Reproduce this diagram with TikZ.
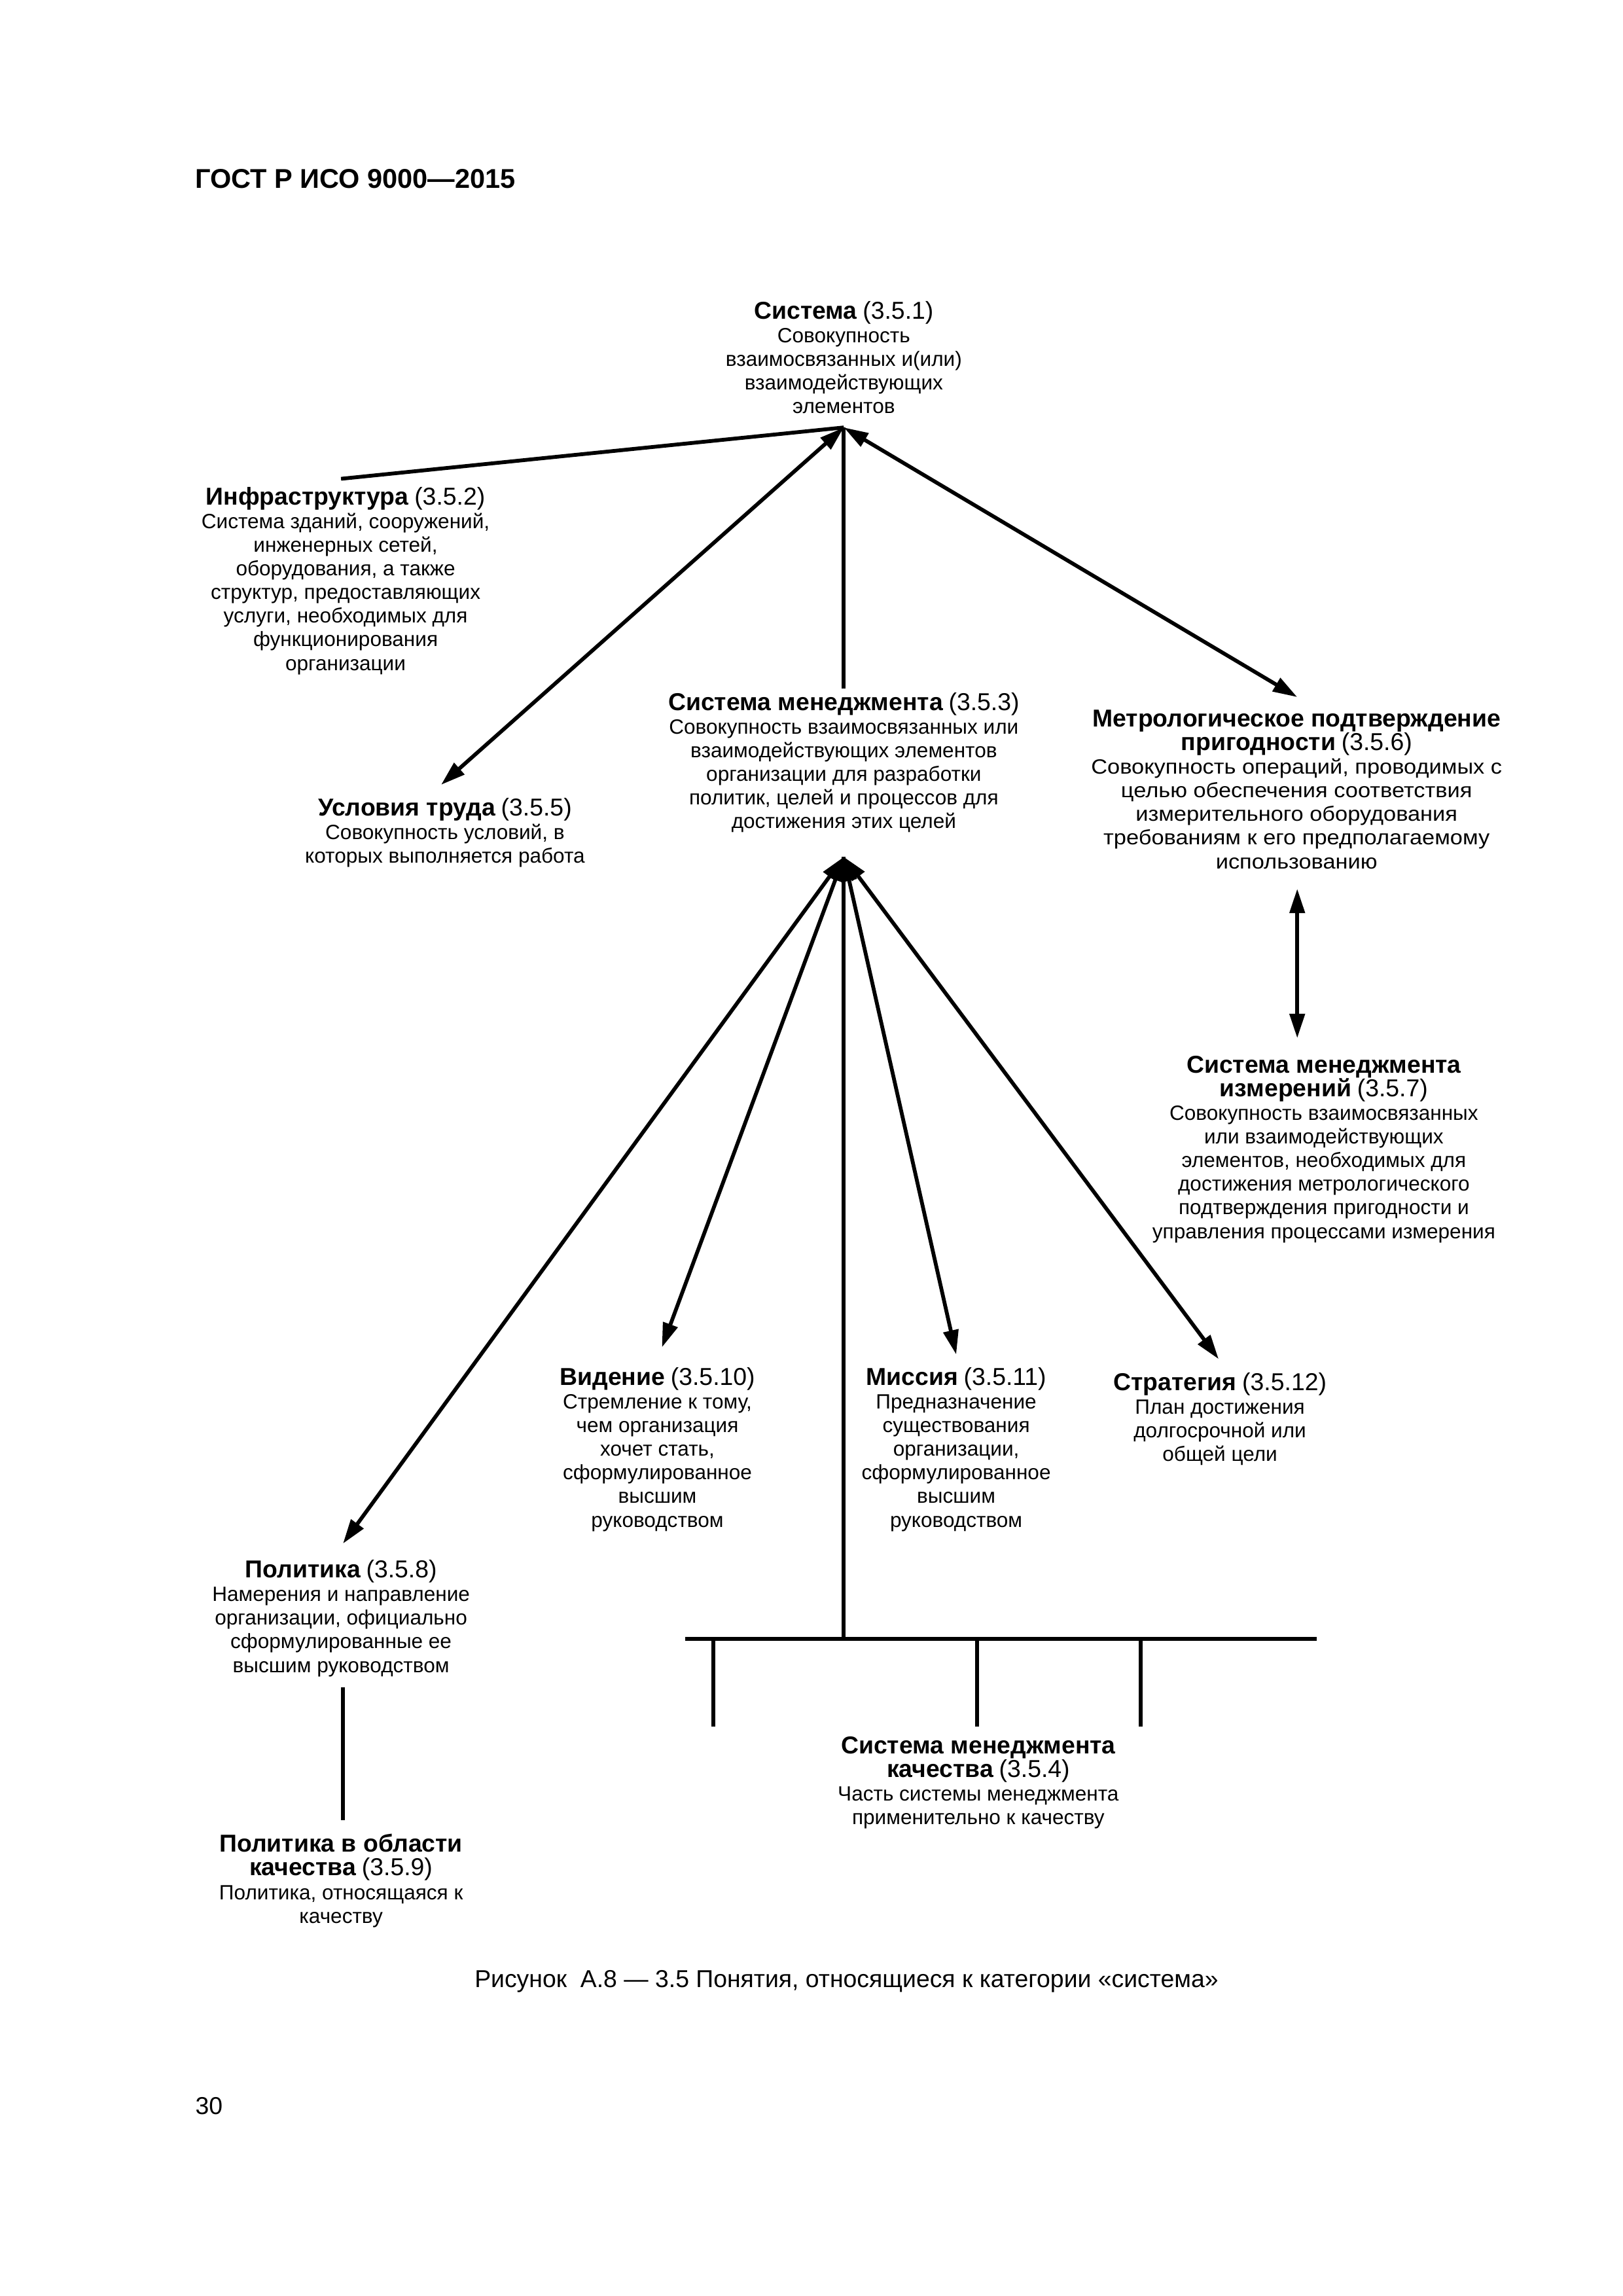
\documentclass[tikz,border=0pt]{standalone}
\usepackage{fontspec}
\setmainfont{Liberation Sans}
\newfontfamily\widefont[FakeStretch=1.09]{Liberation Sans}
\usetikzlibrary{arrows.meta}
\newcommand\ttl[1]{{\fontsize{9}{9.2}\selectfont\bfseries #1}}
\newcommand\tno[1]{{\fontsize{9}{9.2}\selectfont #1}}
\begin{document}
\begin{tikzpicture}[x=0.08404mm,y=-0.08404mm,
  term/.style={align=center,inner sep=0pt,font=\fontsize{7.6}{8.7}\selectfont},
  conn/.style={line width=1.4pt},
  dbl/.style={conn,{Triangle[length=9pt,width=5.5pt]}-{Triangle[length=9pt,width=5.5pt]}}]
\useasboundingbox (0,0) rectangle (2498.5,3534.2);
% header
\node[anchor=base west,inner sep=0pt,font=\fontsize{10}{12}\selectfont\bfseries] (hdr) at (300,290) {ГОСТ Р ИСО 9000—2015};
% terms
\node[term] (n1) at (1299,550) {\ttl{Система} \tno{(3.5.1)}\\Совокупность\\взаимосвязанных и(или)\\взаимодействующих\\элементов};
\node[term] (n2) at (532,894) {\ttl{Инфраструктура} \tno{(3.5.2)}\\Система зданий, сооружений,\\инженерных сетей,\\оборудования, а также\\структур, предоставляющих\\услуги, необходимых для\\функционирования\\организации};
\node[term] (n5) at (685,1282) {\ttl{Условия труда} \tno{(3.5.5)}\\Совокупность условий, в\\которых выполняется работа};
\node[term] (n3) at (1299,1174) {\ttl{Система менеджмента} \tno{(3.5.3)}\\Совокупность взаимосвязанных или\\взаимодействующих элементов\\организации для разработки\\политик, целей и процессов для\\достижения этих целей};
\node[term] (n6) at (1996,1215) {\ttl{Метрологическое подтверждение}\\\ttl{пригодности} \tno{(3.5.6)}\\\widefont Совокупность операций, проводимых с\\\widefont целью обеспечения соответствия\\\widefont измерительного оборудования\\\widefont требованиям к его предполагаемому\\\widefont использованию};
\node[term] (n7) at (2038,1769) {\ttl{Система менеджмента}\\\ttl{измерений} \tno{(3.5.7)}\\Совокупность взаимосвязанных\\или взаимодействующих\\элементов, необходимых для\\достижения метрологического\\подтверждения пригодности и\\управления процессами измерения};
\node[term] (n10) at (1012,2231) {\ttl{Видение} \tno{(3.5.10)}\\Стремление к тому,\\чем организация\\хочет стать,\\сформулированное\\высшим\\руководством};
\node[term] (n11) at (1472,2231) {\ttl{Миссия} \tno{(3.5.11)}\\Предназначение\\существования\\организации,\\сформулированное\\высшим\\руководством};
\node[term] (n12) at (1878,2184) {\ttl{Стратегия} \tno{(3.5.12)}\\План достижения\\долгосрочной или\\общей цели};
\node[term] (n8) at (525,2491) {\ttl{Политика} \tno{(3.5.8)}\\Намерения и направление\\организации, официально\\сформулированные ее\\высшим руководством};
\node[term] (n9) at (525,2895) {\ttl{Политика в области}\\\ttl{качества} \tno{(3.5.9)}\\Политика, относящаяся к\\качеству};
\node[term] (n4) at (1506,2744) {\ttl{Система менеджмента}\\\ttl{качества} \tno{(3.5.4)}\\Часть системы менеджмента\\применительно к качеству};
% caption and page number
\node[inner sep=0pt,font=\fontsize{9}{11}\selectfont] (cap) at (1303,3050) {Рисунок~~А.8 — 3.5 Понятия, относящиеся к категории «система»};
\node[anchor=west,inner sep=0pt,font=\fontsize{9}{11}\selectfont] (pg) at (300,3242) {30};
% connector points
\coordinate (tip) at (1299,658);
\coordinate (apex) at (1299,1319);
\coordinate (infraT) at (525,737);
\coordinate (uslT) at (679,1208);
\coordinate (smT) at (1299,1060);
\coordinate (metT) at (1997,1073);
\coordinate (metB) at (1997,1368);
\coordinate (smiT) at (1997,1598);
\coordinate (polT) at (528,2376);
\coordinate (vidT) at (1019,2074);
\coordinate (misT) at (1472,2085);
\coordinate (strT) at (1876,2092);
\coordinate (barM) at (1299,2523);
\coordinate (barL) at (1055,2523);
\coordinate (barR) at (2027,2523);
\coordinate (d1T) at (1098,2523);
\coordinate (d1B) at (1098,2658);
\coordinate (d2T) at (1504,2523);
\coordinate (d2B) at (1504,2658);
\coordinate (d3T) at (1756,2523);
\coordinate (d3B) at (1756,2658);
\coordinate (polB) at (528,2597);
\coordinate (pqT) at (528,2802);
% connectors
\draw[conn] (infraT) -- (tip);
\draw[dbl] (tip) -- (uslT);
\draw[conn] (smT) -- (tip);
\draw[dbl] (tip) -- (metT);
\draw[dbl] (metB) -- (smiT);
\draw[dbl] (apex) -- (polT);
\draw[dbl] (apex) -- (vidT);
\draw[dbl] (apex) -- (misT);
\draw[dbl] (apex) -- (strT);
\draw[conn] (apex) -- (barM);
\draw[conn] (barL) -- (barR);
\draw[conn] (d1T) -- (d1B);
\draw[conn] (d2T) -- (d2B);
\draw[conn] (d3T) -- (d3B);
\draw[conn] (polB) -- (pqT);
\end{tikzpicture}
\end{document}
